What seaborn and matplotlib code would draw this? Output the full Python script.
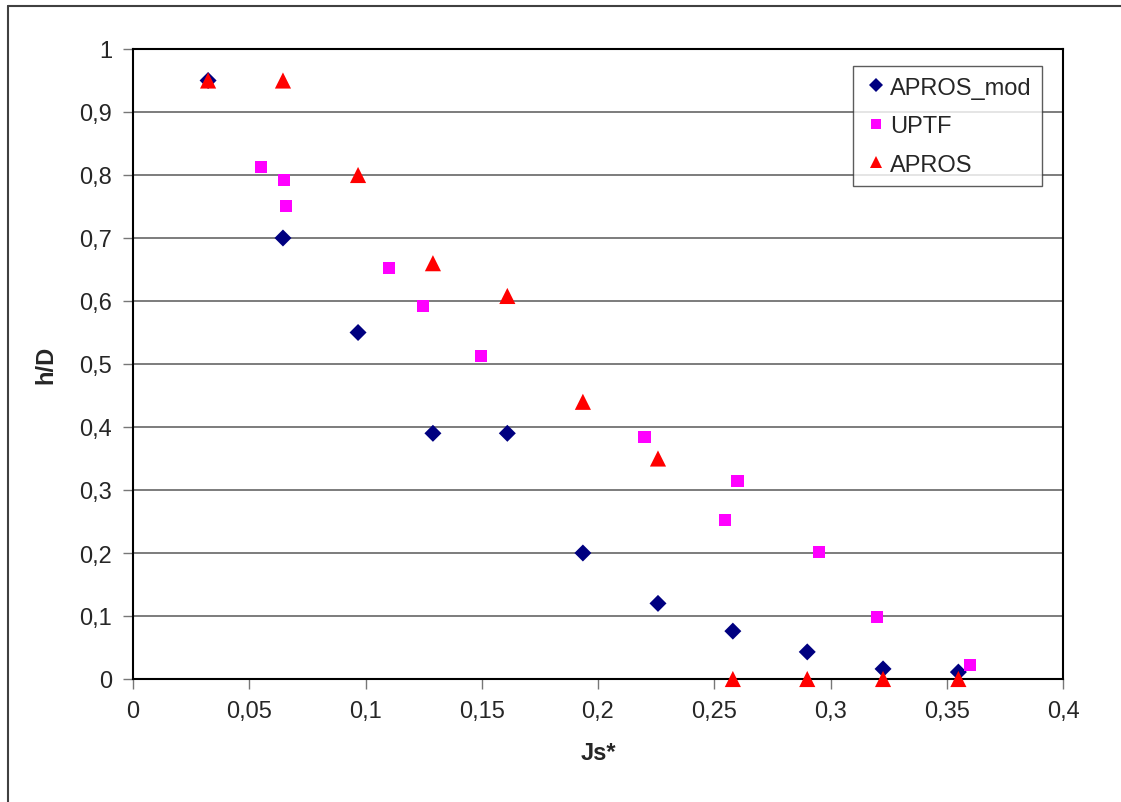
import matplotlib

matplotlib.use("Agg")
import matplotlib.pyplot as plt
import matplotlib.ticker as mticker
import pandas as pd
import seaborn as sns

# ------------------------------------------------------------------
# data
# ------------------------------------------------------------------
apros_mod_x = [0.0323, 0.0645, 0.0968, 0.129, 0.161, 0.1935, 0.2258, 0.258, 0.29, 0.3226, 0.355]
apros_mod_y = [0.95, 0.70, 0.55, 0.39, 0.39, 0.20, 0.12, 0.076, 0.043, 0.016, 0.011]

uptf_x = [0.055, 0.065, 0.066, 0.110, 0.1247, 0.1497, 0.220, 0.260, 0.2546, 0.295, 0.320, 0.360]
uptf_y = [0.813, 0.792, 0.751, 0.652, 0.592, 0.513, 0.384, 0.314, 0.252, 0.202, 0.098, 0.022]

apros_x = [0.0323, 0.0645, 0.0968, 0.129, 0.161, 0.1935, 0.2258, 0.258, 0.29, 0.3226, 0.355]
apros_y = [0.95, 0.95, 0.80, 0.66, 0.608, 0.44, 0.35, 0.0, 0.0, 0.0, 0.0]

series = ["APROS_mod", "UPTF", "APROS"]
colors = {"APROS_mod": "#000080", "UPTF": "#FF00FF", "APROS": "#FF0000"}
markers = {"APROS_mod": "D", "UPTF": "s", "APROS": "^"}
marker_sizes = {"APROS_mod": 75, "UPTF": 75, "APROS": 135}

x_ticks = [0, 0.05, 0.1, 0.15, 0.2, 0.25, 0.3, 0.35, 0.4]
y_ticks = [0, 0.1, 0.2, 0.3, 0.4, 0.5, 0.6, 0.7, 0.8, 0.9, 1.0]

df = pd.concat(
    [
        pd.DataFrame({"Js": apros_mod_x, "hD": apros_mod_y, "series": "APROS_mod"}),
        pd.DataFrame({"Js": uptf_x, "hD": uptf_y, "series": "UPTF"}),
        pd.DataFrame({"Js": apros_x, "hD": apros_y, "series": "APROS"}),
    ],
    ignore_index=True,
)

sns.set_theme(style="white")
plt.rcParams["font.family"] = ["Liberation Sans", "DejaVu Sans"]

fig = plt.figure(figsize=(11.21, 8.03), dpi=100)
ax = fig.add_axes([133 / 1121, 1 - 680 / 803, 930 / 1121, 630 / 803])

# outer frame (only left/top visible in the reference crop)
fig.add_artist(plt.Line2D([8 / 1121, 8 / 1121], [0, 1 - 7 / 803], color="#404040", lw=1.5))
fig.add_artist(plt.Line2D([8 / 1121, 1], [1 - 7 / 803, 1 - 7 / 803], color="#404040", lw=1.5))

sns.scatterplot(
    data=df,
    x="Js",
    y="hD",
    hue="series",
    style="series",
    size="series",
    hue_order=series,
    style_order=series,
    size_order=series,
    palette=colors,
    markers=markers,
    sizes=marker_sizes,
    linewidth=0,
    ax=ax,
    clip_on=False,
    zorder=3,
)

ax.set_xlim(0, 0.4)
ax.set_ylim(0, 1)
ax.set_xticks(x_ticks)
ax.set_yticks(y_ticks)
fmt = mticker.FuncFormatter(lambda v, p: f"{v:g}".replace(".", ","))
ax.xaxis.set_major_formatter(fmt)
ax.yaxis.set_major_formatter(fmt)

ax.grid(axis="y", color="#666666", lw=1.2)
ax.grid(axis="x", visible=False)
ax.set_axisbelow(True)
for sp in ax.spines.values():
    sp.set_color("black")
    sp.set_linewidth(1.5)

ax.tick_params(axis="both", which="major", direction="out", length=7, width=1,
               color="#777777", labelsize=17, pad=8, bottom=True, left=True)

ax.set_xlabel("Js*", fontsize=17, fontweight="bold", labelpad=14)
ax.set_ylabel("h/D", fontsize=17, fontweight="bold", labelpad=16)

leg = ax.legend(
    loc="upper right",
    bbox_to_anchor=(1 - 21 / 930, 1 - 17 / 630),
    borderaxespad=0,
    fontsize=17,
    frameon=True,
    fancybox=False,
    edgecolor="#333333",
    borderpad=0.45,
    labelspacing=0.7,
    handletextpad=0.1,
    handlelength=1.0,
    markerscale=0.8,
)
leg.get_frame().set_linewidth(1.0)

fig.savefig("out.png", dpi=100)
